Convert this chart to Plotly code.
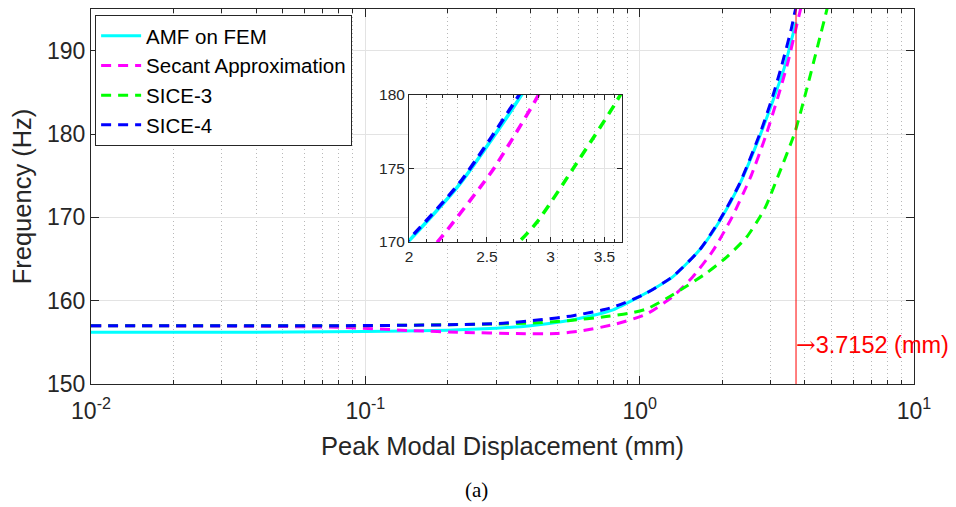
import math
import plotly.graph_objects as go

# ---------------- data ----------------
amf_x = [0.01, 0.03, 0.1, 0.2, 0.3, 0.4, 0.525, 0.65, 0.8, 1.0, 1.15, 1.32, 1.655, 1.96, 2.31, 2.70, 3.06, 3.37, 3.57, 3.7152]
amf_f = [156.2, 156.2, 156.3, 156.45, 156.7, 157.0, 157.5, 158.1, 158.9, 160.5, 161.6, 162.85, 166.1, 169.6, 173.9, 179.2, 184.0, 188.0, 191.2, 193.4]

secant_x = [0.01, 0.03, 0.08, 0.149, 0.226, 0.355, 0.497, 0.62, 0.82, 1.06, 1.32, 1.56, 1.85, 2.17, 2.45, 2.55, 2.87, 3.19, 3.47, 3.72, 3.86, 4.0]
secant_f = [157.0, 156.95, 156.8, 156.4, 156.2, 156.05, 156.05, 156.4, 157.2, 158.4, 160.5, 162.85, 166.0, 170.0, 173.7, 175.0, 179.6, 184.4, 188.6, 192.8, 195.0, 197.2]

sice3_x = [0.01, 0.1, 0.3, 0.4, 0.55, 0.755, 0.92, 1.06, 1.32, 1.75, 2.07, 2.45, 2.74, 2.89, 3.20, 3.68, 4.05, 4.46, 4.81, 5.0]
sice3_f = [157.0, 157.0, 157.2, 157.3, 157.6, 158.1, 158.5, 159.0, 160.7, 163.3, 165.2, 167.6, 170.0, 171.4, 175.0, 180.2, 185.2, 190.6, 194.9, 197.3]

sice4_x = [0.01, 0.08, 0.2, 0.318, 0.433, 0.572, 0.778, 1.03, 1.32, 1.655, 1.96, 2.31, 2.77, 3.06, 3.28, 3.57, 3.66, 3.8]
sice4_f = [157.0, 157.0, 157.1, 157.3, 157.7, 158.2, 159.1, 160.7, 162.9, 166.1, 169.7, 174.0, 180.4, 184.6, 188.0, 192.6, 194.3, 196.6]

series_names = ["AMF on FEM", "Secant Approximation", "SICE-3", "SICE-4"]
series_x = [amf_x, secant_x, sice3_x, sice4_x]
series_f = [amf_f, secant_f, sice3_f, sice4_f]
series_colors = ["#00ffff", "#ff00ff", "#00ff00", "#0000ff"]
series_dash = ["solid", "10px,7px", "10px,7px", "10px,7px"]

marker_disp = 3.7152
marker_label = "<span style=\"font-family:'DejaVu Serif'\">\u2192</span>3.7152 (mm)"

x_tickvals = [0.01, 0.1, 1, 10]
x_ticktext = ["10<sup>-2</sup>", "10<sup>-1</sup>", "10<sup>0</sup>", "10<sup>1</sup>"]
y_tickvals = [150, 160, 170, 180, 190]
inset_x_tickvals = [2, 2.5, 3, 3.5]
inset_x_ticktext = ["2", "2.5", "3", "3.5"]
inset_y_tickvals = [170, 175, 180]

# ---------------- figure ----------------
fig = go.Figure()

for name, xs, fs, col, dash in zip(series_names, series_x, series_f, series_colors, series_dash):
    fig.add_trace(go.Scatter(x=xs, y=fs, name=name, mode="lines",
                             line=dict(color=col, width=3, dash=dash, shape="spline", smoothing=0.6),
                             xaxis="x", yaxis="y"))

# red vertical marker line
fig.add_trace(go.Scatter(x=[marker_disp, marker_disp], y=[150, 195], mode="lines",
                         line=dict(color="#ff0000", width=1), showlegend=False,
                         xaxis="x", yaxis="y", hoverinfo="skip"))

# inset
for name, xs, fs, col, dash in zip(series_names, series_x, series_f, series_colors, series_dash):
    fig.add_trace(go.Scatter(x=xs, y=fs, name=name, mode="lines", showlegend=False,
                             line=dict(color=col, width=3.5, dash=dash, shape="spline", smoothing=0.6),
                             xaxis="x2", yaxis="y2"))

main_minor = [k * 10 ** e for e in (-2, -1, 0) for k in range(2, 10)]
inset_minor = [round(2 + 0.1 * i, 1) for i in range(1, 17) if round(2 + 0.1 * i, 1) not in (2.5, 3.0, 3.5)]

axis_col = "#262626"
grid_col = "#e3e3e3"
minor_grid = "#b8b8b8"
font_fam = "Liberation Sans, Arial, sans-serif"

# the page body has an 8px margin, so the figure is sized to fit inside it
fig.update_layout(
    width=948, height=499,
    margin=dict(l=83, r=42, t=1, b=123, autoexpand=False),
    paper_bgcolor="white", plot_bgcolor="white",
    font=dict(family=font_fam, color=axis_col),
    showlegend=True,
    legend=dict(x=0.005, y=0.984, xanchor="left", yanchor="top",
                bgcolor="white", bordercolor=axis_col, borderwidth=1,
                font=dict(size=20.5, color="black", family=font_fam),
                tracegroupgap=0, itemwidth=40),
    xaxis=dict(type="log", range=[-2, 1], domain=[0, 1], anchor="y", automargin=False,
               tickmode="array", tickvals=x_tickvals, ticktext=x_ticktext,
               ticks="inside", ticklen=8, tickcolor=axis_col, mirror="allticks",
               showline=True, linecolor=axis_col, linewidth=1,
               showgrid=True, gridcolor=grid_col, gridwidth=1, zeroline=False,
               tickfont=dict(size=23, color=axis_col), ticklabelstandoff=6,
               minor=dict(tickmode="array", tickvals=main_minor, ticks="inside", ticklen=4,
                          tickcolor=axis_col, showgrid=True, gridcolor=minor_grid,
                          griddash="1px,3px", gridwidth=1),
               title=dict(text="Peak Modal Displacement (mm)", font=dict(size=25.5, color=axis_col), standoff=14)),
    yaxis=dict(range=[150, 195], domain=[0, 1], anchor="x", automargin=False,
               tickmode="array", tickvals=y_tickvals,
               ticks="inside", ticklen=8, tickcolor=axis_col, mirror="allticks",
               showline=True, linecolor=axis_col, linewidth=1,
               showgrid=True, gridcolor=grid_col, gridwidth=1, zeroline=False,
               tickfont=dict(size=23, color=axis_col),
               title=dict(text="Frequency (Hz)", font=dict(size=25.5, color=axis_col), standoff=8)),
    xaxis2=dict(type="log", range=[math.log10(2), math.log10(3.68)], domain=[0.3864, 0.6452], anchor="y2",
                automargin=False,
                tickmode="array", tickvals=inset_x_tickvals, ticktext=inset_x_ticktext,
                ticks="inside", ticklen=5, tickcolor=axis_col, mirror="allticks",
                showline=True, linecolor=axis_col, linewidth=1,
                showgrid=True, gridcolor=grid_col, zeroline=False,
                tickfont=dict(size=15.5, color=axis_col),
                minor=dict(tickmode="array", tickvals=inset_minor, ticks="inside", ticklen=3,
                           tickcolor=axis_col, showgrid=True, gridcolor=minor_grid, griddash="1px,3px")),
    yaxis2=dict(range=[170, 180], domain=[0.3787, 0.7707], anchor="x2", automargin=False,
                tickmode="array", tickvals=inset_y_tickvals,
                ticks="inside", ticklen=5, tickcolor=axis_col, mirror="allticks",
                showline=True, linecolor=axis_col, linewidth=1,
                showgrid=True, gridcolor=grid_col, zeroline=False,
                tickfont=dict(size=15.5, color=axis_col)),
    annotations=[
        dict(x=math.log10(marker_disp), y=154.7, xref="x", yref="y", text=marker_label,
             showarrow=False, xanchor="left", yanchor="middle", xshift=-2,
             font=dict(size=23.5, color="#ff0000", family=font_fam)),
        dict(x=0.469, y=-0.283, xref="paper", yref="paper", text="(a)", showarrow=False,
             xanchor="center", yanchor="middle",
             font=dict(size=21, color="black", family="Liberation Serif, Times New Roman, serif")),
    ],
)

fig.write_html("out.html")
